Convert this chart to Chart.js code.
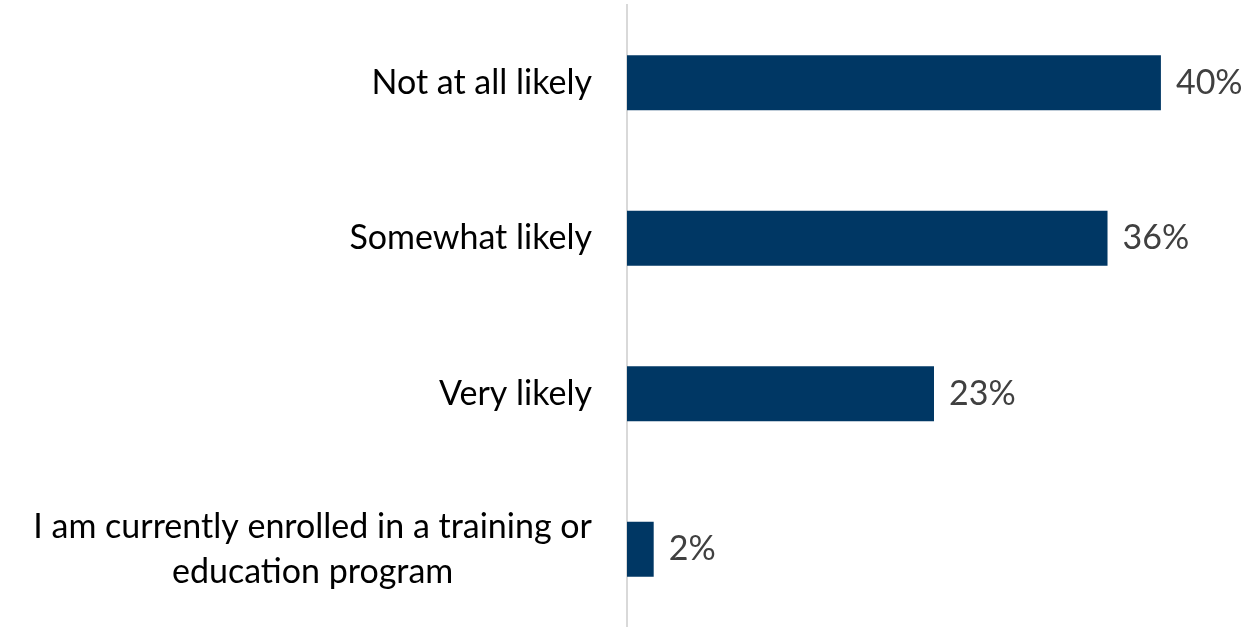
<!DOCTYPE html>
<html>
<head>
<meta charset="utf-8">
<script src="https://cdn.jsdelivr.net/npm/chart.js@4"></script>
<style>
  html, body { margin: 0; padding: 0; background: #fff; }
  #wrap { width: 1245px; height: 627px; position: relative; }
</style>
</head>
<body>
<div id="wrap"><canvas id="chart"></canvas></div>
<script>
// Chart data
const categories = [
    ['Not at all likely'],
    ['Somewhat likely'],
    ['Very likely'],
    ['I am currently enrolled in a training or', 'education program']
];
const values = [40, 36, 23, 2];

const FONT = 'Lato, "Open Sans", sans-serif';
const FONT_SIZE = 34;

// Category labels: block right-aligned next to the axis, lines centred in the block
const categoryLabels = {
    id: 'categoryLabels',
    afterDraw(chart) {
        const ctx = chart.ctx;
        const yScale = chart.scales.y;
        const right = chart.chartArea.left - 35;
        const lineHeight = 45;
        ctx.save();
        ctx.font = FONT_SIZE + 'px ' + FONT;
        ctx.fillStyle = '#000000';
        ctx.textAlign = 'center';
        ctx.textBaseline = 'middle';
        categories.forEach((lines, i) => {
            const y = yScale.getPixelForValue(i);
            const widest = Math.max(...lines.map(l => ctx.measureText(l).width));
            const cx = right - widest / 2;
            const top = y - (lines.length - 1) * lineHeight / 2;
            lines.forEach((line, j) => ctx.fillText(line, cx, top + j * lineHeight));
        });
        ctx.restore();
    }
};

// Value labels after each bar
const valueLabels = {
    id: 'valueLabels',
    afterDatasetsDraw(chart) {
        const ctx = chart.ctx;
        const meta = chart.getDatasetMeta(0);
        ctx.save();
        ctx.font = FONT_SIZE + 'px ' + FONT;
        ctx.fillStyle = '#404040';
        ctx.textAlign = 'left';
        ctx.textBaseline = 'middle';
        meta.data.forEach((bar, i) => {
            ctx.fillText(values[i] + '%', bar.x + 15, bar.y);
        });
        ctx.restore();
    }
};

new Chart(document.getElementById('chart'), {
    type: 'bar',
    data: {
        labels: categories.map(c => c.join(' ')),
        datasets: [{
            data: values,
            backgroundColor: '#003764',
            borderWidth: 0,
            categoryPercentage: 1,
            barPercentage: 0.354
        }]
    },
    options: {
        indexAxis: 'y',
        responsive: true,
        maintainAspectRatio: false,
        animation: false,
        layout: { padding: { top: 5, right: 4, bottom: 0, left: 0 } },
        scales: {
            x: {
                display: false,
                min: 0,
                max: 46
            },
            y: {
                afterFit(scale) { scale.width = 627; },
                ticks: { display: false },
                grid: { display: false, drawTicks: false },
                border: { display: true, color: '#d9d9d9', width: 2 }
            }
        },
        plugins: {
            legend: { display: false },
            tooltip: { enabled: false }
        }
    },
    plugins: [categoryLabels, valueLabels]
});
</script>
</body>
</html>
